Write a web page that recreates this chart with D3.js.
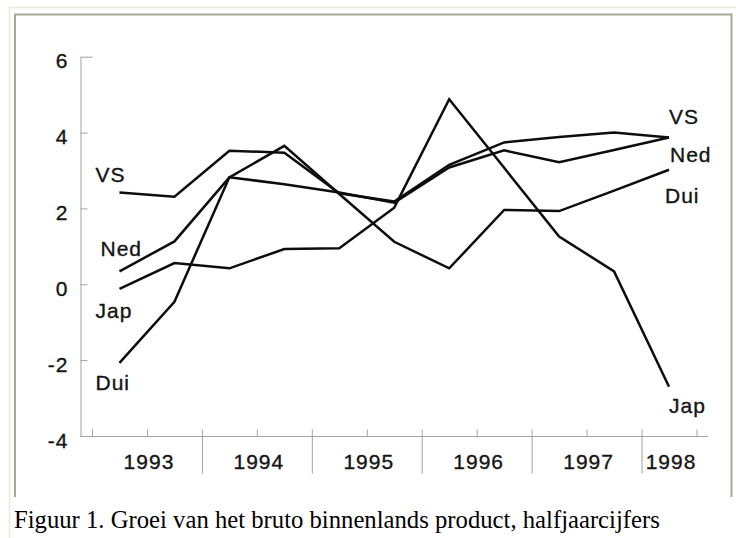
<!DOCTYPE html>
<html lang="nl">
<head>
<meta charset="UTF-8">
<title>Groei van het bruto binnenlands product</title>
<script src="https://d3js.org/d3.v7.min.js"></script>
<style>
  body { margin: 0; background: #fff; }
  svg { display: block; }
  .lbl { font-family: "Liberation Sans", Arial, sans-serif; font-size: 21px; fill: #151515; stroke: #151515; stroke-width: 0.35px; letter-spacing: 1px; }
  .caption { font-family: "Liberation Serif", "Times New Roman", serif; font-size: 24.7px; fill: #000; }
</style>
</head>
<body>
<div id="chart"></div>
<script>
// half-year periods [year, half]
const periods = [[1993,1],[1993,2],[1994,1],[1994,2],[1995,1],[1995,2],[1996,1],[1996,2],[1997,1],[1997,2],[1998,1]];
const years = [1993, 1994, 1995, 1996, 1997, 1998];
const yTicks = [-4, -2, 0, 2, 4, 6];

const vs  = [2.42, 2.31, 3.52, 3.47, 2.40, 2.18, 3.15, 3.74, 3.88, 4.00, 3.87];
const ned = [0.34, 1.13, 2.82, 2.64, 2.42, 2.15, 3.08, 3.53, 3.22, 3.54, 3.87];
const jap = [-0.12, 0.56, 0.42, 0.93, 0.95, 2.02, 4.88, 3.07, 1.26, 0.34, -2.70];
const dui = [-2.07, -0.46, 2.82, 3.65, 2.38, 1.12, 0.42, 1.96, 1.93, 2.47, 3.02];

const series = [
  { name: "VS",  values: vs,  start: [-24, -10], end: [0, -13] },
  { name: "Ned", values: ned, start: [-19, -15], end: [1, 25] },
  { name: "Jap", values: jap, start: [-24, 29],  end: [0, 26] },
  { name: "Dui", values: dui, start: [-24, 27],  end: [-4, 33] }
];

const caption = "Figuur 1. Groei van het bruto binnenlands product, halfjaarcijfers";

const width = 736, height = 538;
const axisColor = "#a3a3a3";

const svg = d3.select("#chart").append("svg")
    .attr("width", width)
    .attr("height", height);

// window frame
svg.append("path").attr("d", "M9.5,538V7.5H736").attr("fill", "none").attr("stroke", "#ece9d8").attr("stroke-width", 1.5);
svg.append("path").attr("d", "M15,497V14.5H731.5V497").attr("fill", "none").attr("stroke", "#a8a79e").attr("stroke-width", 2);

const periodPos = p => p[0] + (p[1] === 1 ? 0.25 : 0.75);

const x = d3.scaleLinear().domain([1993, 1998.5]).range([92, 696.5]);
const y = d3.scaleLinear().domain([-4, 6]).range([436, 56.7]);

// y axis (plain hyphen for negatives, as in the original)
const yAxis = svg.append("g")
    .attr("transform", "translate(80.5,0)")
    .call(d3.axisLeft(y).tickValues(yTicks).tickFormat(d => String(d))
      .tickSizeInner(-7).tickSizeOuter(0).tickPadding(12));
yAxis.select(".domain").attr("stroke", axisColor);
yAxis.selectAll(".tick line").attr("stroke", axisColor)
    .attr("x2", d => d === 6 ? 12 : 7);
yAxis.selectAll(".tick text")
    .attr("class", "lbl")
    .attr("letter-spacing", 0)
    .attr("dy", null)
    .attr("y", 11);

// x axis line
svg.append("line")
    .attr("x1", 80).attr("x2", 708)
    .attr("y1", 436.5).attr("y2", 436.5)
    .attr("stroke", axisColor);

const halfTicks = d3.range(0, 12).map(i => 1993 + i * 0.5);
const minorTicks = halfTicks.filter(t => !(Number.isInteger(t) && t > 1993));
const majorTicks = halfTicks.filter(t => Number.isInteger(t) && t > 1993);

const xMinor = svg.append("g")
    .attr("transform", "translate(0,436.5)")
    .call(d3.axisTop(x).tickValues(minorTicks).tickSize(7).tickFormat(""));
xMinor.select(".domain").remove();
xMinor.selectAll(".tick line").attr("stroke", axisColor);

const xMajor = svg.append("g")
    .attr("transform", "translate(0,429.5)")
    .call(d3.axisBottom(x).tickValues(majorTicks).tickSize(44).tickFormat(""));
xMajor.select(".domain").remove();
xMajor.selectAll(".tick line").attr("stroke", axisColor);

// year labels centred on the visible part of each year
svg.append("g").selectAll("text")
    .data(years)
    .join("text")
    .attr("class", "lbl")
    .attr("text-anchor", "middle")
    .attr("x", d => x((d + Math.min(d + 1, 1998.5)) / 2) + 2)
    .attr("y", 469)
    .text(d => d);

// lines
const line = d3.line()
    .x((d, i) => x(periodPos(periods[i])))
    .y(d => y(d));

svg.append("g").selectAll("path")
    .data(series)
    .join("path")
    .attr("d", d => line(d.values))
    .attr("fill", "none")
    .attr("stroke", "#0d0d0d")
    .attr("stroke-width", 2.5)
    .attr("stroke-linejoin", "miter");

// series labels at both ends
const last = periods.length - 1;
svg.append("g").selectAll("text")
    .data(series)
    .join("text")
    .attr("class", "lbl")
    .attr("x", d => x(periodPos(periods[0])) + d.start[0])
    .attr("y", d => y(d.values[0]) + d.start[1])
    .text(d => d.name);

svg.append("g").selectAll("text")
    .data(series)
    .join("text")
    .attr("class", "lbl")
    .attr("x", d => x(periodPos(periods[last])) + d.end[0])
    .attr("y", d => y(d.values[last]) + d.end[1])
    .text(d => d.name);

svg.append("text")
    .attr("class", "caption")
    .attr("x", 14)
    .attr("y", 528)
    .text(caption);
</script>
</body>
</html>
